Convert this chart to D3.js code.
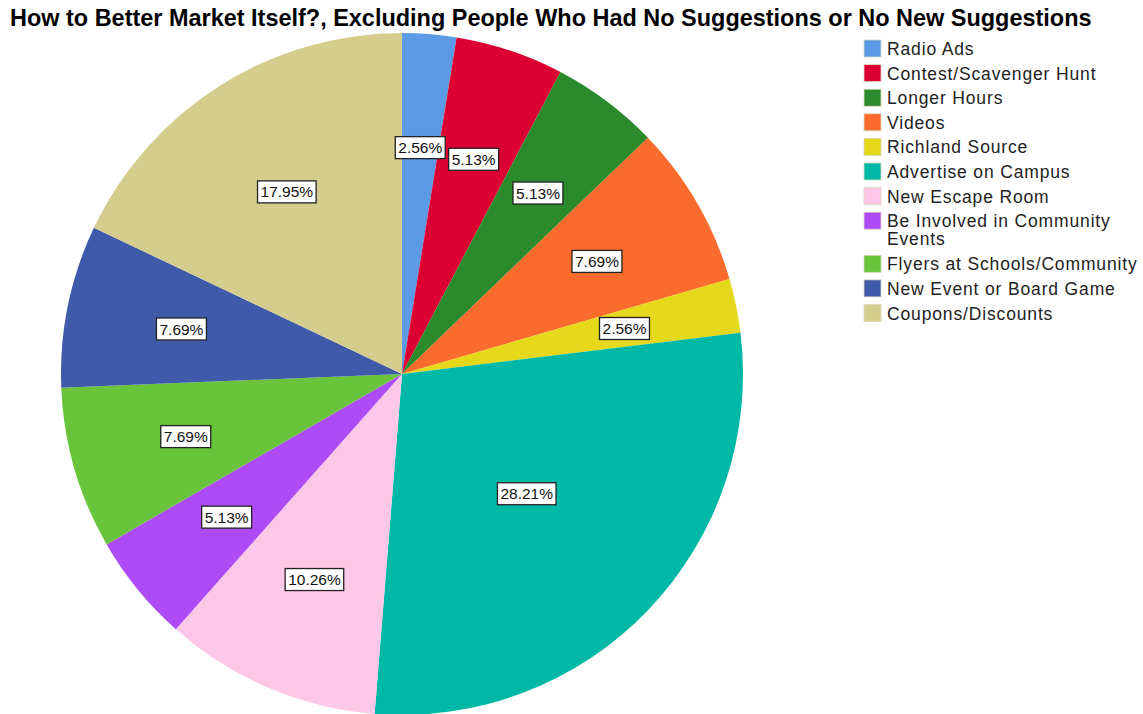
<!DOCTYPE html>
<html><head><meta charset="utf-8">
<script src="https://cdn.jsdelivr.net/npm/d3@7"></script>
<style>body{margin:0;background:#fff;} svg{display:block;}</style>
</head><body>
<svg id="chart" width="1143" height="714"></svg>
<script>
const categories = ["Radio Ads","Contest/Scavenger Hunt","Longer Hours","Videos","Richland Source","Advertise on Campus","New Escape Room","Be Involved in Community Events","Flyers at Schools/Community","New Event or Board Game","Coupons/Discounts"];
const values = [2.56,5.13,5.13,7.69,2.56,28.21,10.26,5.13,7.69,7.69,17.95];
const colors = ["#5b9be6","#dc0032","#2b8a2b","#fb6b2c","#e6d81b","#00b8a6","#fdc7e7","#ad4cf6","#69c43b","#3f5aa9","#d5cd8e"];
const legendLines = [["Radio Ads"],["Contest/Scavenger Hunt"],["Longer Hours"],["Videos"],["Richland Source"],["Advertise on Campus"],["New Escape Room"],["Be Involved in Community","Events"],["Flyers at Schools/Community"],["New Event or Board Game"],["Coupons/Discounts"]];
const title = "How to Better Market Itself?, Excluding People Who Had No Suggestions or No New Suggestions";

const svg = d3.select("#chart");
const font = "Arial, 'Liberation Sans', sans-serif";

// title
const t = svg.append("text").attr("x",10).attr("y",26)
  .attr("font-family",font).attr("font-weight","bold").attr("font-size",19)
  .attr("fill","#000").text(title);
const tl = t.node().getComputedTextLength();
t.attr("font-size", 19*1082/tl);

const cx = 402, cy = 374, R = 341;
const g = svg.append("g").attr("transform",`translate(${cx},${cy})`);
const pie = d3.pie().sort(null).value(d=>d)(values);
const arc = d3.arc().innerRadius(0).outerRadius(R);
const color = d3.scaleOrdinal().domain(categories).range(colors);

g.selectAll("path.slice").data(pie).join("path")
  .attr("class","slice").attr("d",arc)
  .attr("fill",(d,i)=>color(categories[i]));

// labels near sector centroid
const fmt = v => v.toFixed(2)+"%";
pie.forEach((d,i)=>{
  const a = (d.endAngle - d.startAngle)/2;
  const m = (d.startAngle + d.endAngle)/2;
  let r = 2*R*Math.sin(a)/(3*a);
  if (a > 0.7) r *= 0.87;
  const x = r*Math.sin(m), y = -r*Math.cos(m);
  const lg = g.append("g").attr("transform",`translate(${x},${y})`);
  const tx = lg.append("text").attr("text-anchor","middle").attr("dy","0.36em")
    .attr("font-family",font).attr("font-size",15.5).attr("fill","#111").text(fmt(values[i]));
  const w = tx.node().getComputedTextLength();
  lg.insert("rect","text").attr("x",-w/2-3).attr("y",-11).attr("width",w+6).attr("height",22)
    .attr("fill","#fff").attr("stroke","#222").attr("stroke-width",1.3);
});

// legend
const lgX = 864, lgY0 = 40, step = 24.6;
let y = lgY0;
legendLines.forEach((lines,i)=>{
  svg.append("rect").attr("x",lgX).attr("y",y).attr("width",17).attr("height",17)
    .attr("fill",color(categories[i])).attr("stroke","#d9d6b8").attr("stroke-width",0.8);
  lines.forEach((ln,j)=>{
    svg.append("text").attr("x",lgX+23).attr("y",y+15+j*18)
      .attr("font-family",font).attr("font-size",17.5).attr("letter-spacing",0.85).attr("fill","#222").text(ln);
  });
  y += step + (lines.length-1)*18.5;
});
</script>
</body></html>
